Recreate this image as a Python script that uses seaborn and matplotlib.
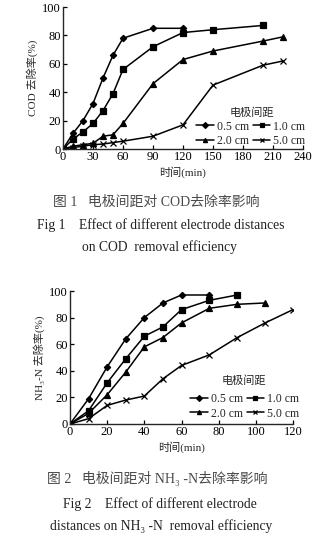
import numpy as np
import pandas as pd
import matplotlib
matplotlib.use("Agg")
import matplotlib.pyplot as plt
import seaborn as sns

sns.set_style("ticks")
FAM = ["Liberation Serif", "Noto Sans CJK SC", "DejaVu Sans"]
plt.rcParams["font.family"] = FAM
plt.rcParams["axes.unicode_minus"] = False

spacings = ["0.5 cm", "1.0 cm", "2.0 cm", "5.0 cm"]
markers = {"0.5 cm": "D", "1.0 cm": "s", "2.0 cm": "^", "5.0 cm": "x"}
msizes = {"0.5 cm": 3.2, "1.0 cm": 3.8, "2.0 cm": 4.4, "5.0 cm": 4.2}
legend_title = "电极间距"

# COD removal (%) vs. time (min)
cod_t05 = [0, 10, 20, 30, 40, 50, 60, 90, 120]
cod_y05 = [0, 11, 20, 32, 50, 66, 78, 85, 85]
cod_t10 = [0, 10, 20, 30, 40, 50, 60, 90, 120, 150, 200]
cod_y10 = [0, 7, 12, 18, 27, 39, 56, 72, 82, 84, 87]
cod_t20 = [0, 10, 20, 30, 40, 50, 60, 90, 120, 150, 200, 220]
cod_y20 = [0, 2, 3, 4, 9, 10, 18, 46, 63, 69, 76, 79]
cod_t50 = [0, 10, 20, 30, 40, 50, 60, 90, 120, 150, 200, 220]
cod_y50 = [0, 1, 2, 3, 3.5, 4.5, 5.5, 9, 17, 45, 59, 62]

# NH3-N removal (%) vs. time (min)
nh_t05 = [0, 10, 20, 30, 40, 50, 60, 75]
nh_y05 = [0, 19, 43, 64, 80, 91, 97, 97]
nh_t10 = [0, 10, 20, 30, 40, 50, 60, 75, 90]
nh_y10 = [0, 10, 31, 49, 66, 73, 86, 93, 97]
nh_t20 = [0, 10, 20, 30, 40, 50, 60, 75, 90, 105]
nh_y20 = [0, 8, 22, 39, 58, 65, 76, 87, 90, 91]
nh_t50 = [0, 10, 20, 30, 40, 50, 60, 75, 90, 105, 120]
nh_y50 = [0, 4, 14, 18, 21, 34, 44, 52, 65, 76, 86]

cod_x_ticks = [0, 30, 60, 90, 120, 150, 180, 210, 240]
nh_x_ticks = [0, 20, 40, 60, 80, 100, 120]
y_ticks = [0, 20, 40, 60, 80, 100]


def frame(ts, ys):
    parts = []
    for lab, t, y in zip(spacings, ts, ys):
        parts.append(pd.DataFrame({"time": t, "rate": y, "spacing": lab}))
    return pd.concat(parts, ignore_index=True)


cod_df = frame([cod_t05, cod_t10, cod_t20, cod_t50],
               [cod_y05, cod_y10, cod_y20, cod_y50])
nh_df = frame([nh_t05, nh_t10, nh_t20, nh_t50],
              [nh_y05, nh_y10, nh_y20, nh_y50])

W, H = 332, 543
fig = plt.figure(figsize=(W / 100, H / 100), dpi=100)


def px_axes(x0, x1, ytop, ybot):
    return fig.add_axes([x0 / W, 1 - ybot / H, (x1 - x0) / W, (ybot - ytop) / H])


def draw(ax, df, xmax, xticks, ylabel, legend_anchor, title_xy):
    for lab in spacings:
        sub = df[df["spacing"] == lab]
        sns.lineplot(data=sub, x="time", y="rate", ax=ax, color="black",
                     marker=markers[lab], markersize=msizes[lab],
                     markeredgecolor="black", markerfacecolor="black",
                     markeredgewidth=0.9, linewidth=1.1, label=lab,
                     estimator=None, sort=False)
    ax.set_xlim(0, xmax)
    ax.set_ylim(0, 100)
    ax.set_xticks(xticks)
    ax.set_yticks(y_ticks)
    ax.tick_params(direction="in", length=3, width=0.9, labelsize=9,
                   pad=1.5, colors="black")
    for s in ("top", "right"):
        ax.spines[s].set_visible(False)
    for s in ("left", "bottom"):
        ax.spines[s].set_linewidth(1.0)
    ax.set_xlabel("时间(min)", fontsize=8, labelpad=2)
    ax.set_ylabel(ylabel, fontsize=8, labelpad=3)
    h, l = ax.get_legend_handles_labels()
    order = [0, 2, 1, 3]
    leg = ax.legend([h[i] for i in order], [l[i] for i in order], ncol=2,
                    frameon=False, fontsize=8.5, handlelength=1.5,
                    handletextpad=0.25, columnspacing=0.3, labelspacing=0.2,
                    borderpad=0.1, loc="lower right",
                    bbox_to_anchor=legend_anchor)
    for hnd in leg.legend_handles:
        hnd.set_markersize(3)
    fig.text(title_xy[0] / W, 1 - title_xy[1] / H, legend_title,
             ha="center", va="center", fontsize=8, fontweight="medium")


ax1 = px_axes(63, 303, 7, 149)
draw(ax1, cod_df, 240, cod_x_ticks, "COD 去除率(%)", (1.04, -0.035), (252, 113))

ax2 = px_axes(70, 293, 291, 424)
draw(ax2, nh_df, 120, nh_x_ticks, "NH₃-N 去除率(%)", (1.06, -0.02), (244, 381))

cap_gray = "#4a4a4a"
fig.text(156 / W, 1 - 202 / H, "图 1   电极间距对 COD去除率影响", ha="center",
         va="center", fontsize=10, color=cap_gray)
fig.text(161 / W, 1 - 225 / H, "Fig 1    Effect of different electrode distances",
         ha="center", va="center", fontsize=9.8, color="#222222")
fig.text(160 / W, 1 - 247 / H, "on COD  removal efficiency", ha="center",
         va="center", fontsize=9.8, color="#222222")

fig.text(157 / W, 1 - 479 / H, "图 2   电极间距对 NH₃ -N去除率影响", ha="center",
         va="center", fontsize=10, color=cap_gray)
fig.text(160 / W, 1 - 504 / H, "Fig 2    Effect of different electrode",
         ha="center", va="center", fontsize=9.8, color="#222222")
fig.text(161 / W, 1 - 526 / H, "distances on NH₃ -N  removal efficiency",
         ha="center", va="center", fontsize=9.8, color="#222222")

fig.savefig("out.png", dpi=100, facecolor="white")
